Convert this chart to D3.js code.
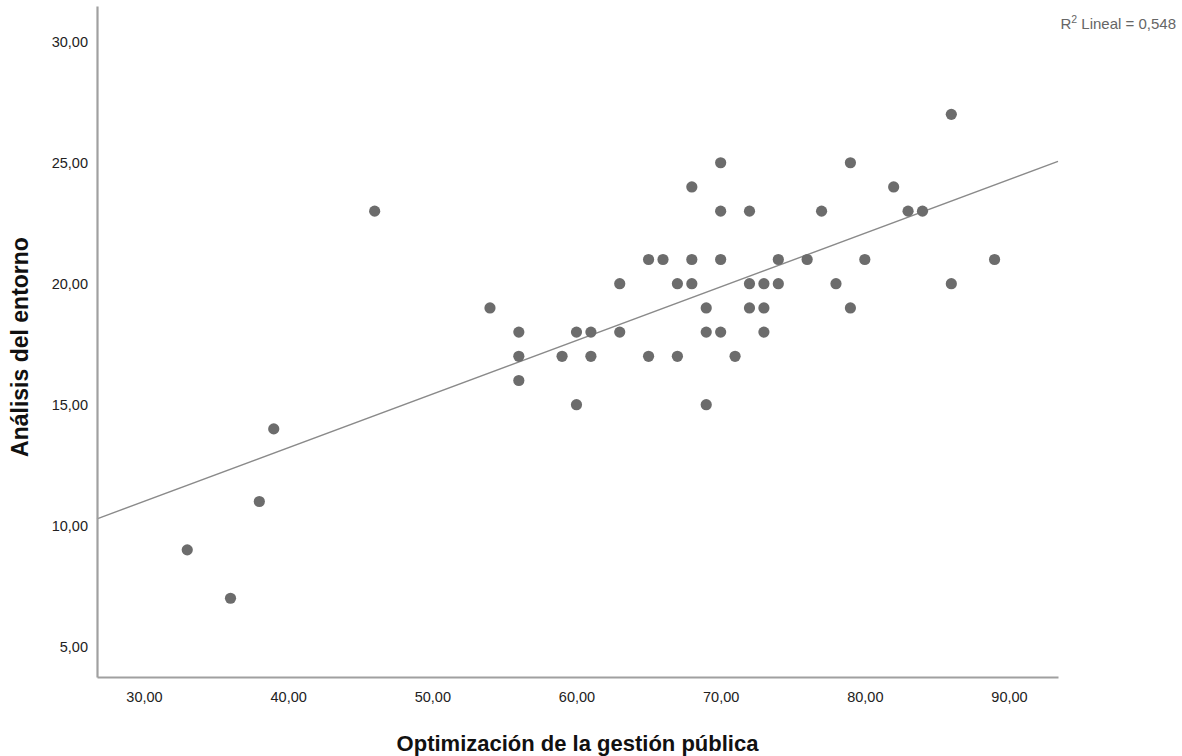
<!DOCTYPE html>
<html>
<head>
<meta charset="utf-8">
<script src="https://cdn.jsdelivr.net/npm/d3@7.9.0/dist/d3.min.js"></script>
<style>
  body { margin: 0; background: #fff; }
  svg { display: block; font-family: "Liberation Sans", Arial, sans-serif; }
  .tick text { fill: #222; font-size: 14.5px; }
  .axis-title { font-weight: bold; font-size: 22px; fill: #111; }
</style>
</head>
<body>
<svg id="chart" width="1182" height="756"></svg>
<script>
// Optimización de la gestión pública (x) vs Análisis del entorno (y)
const xValues = [33, 36, 38, 39, 46, 54, 56, 56, 56, 59, 60, 60, 61, 61, 63, 63,
  65, 65, 66, 67, 67, 68, 68, 68, 69, 69, 69, 70, 70, 70, 70, 71, 72, 72, 72,
  73, 73, 73, 74, 74, 76, 77, 78, 79, 79, 80, 82, 83, 84, 86, 86, 89];
const yValues = [9, 7, 11, 14, 23, 19, 18, 17, 16, 17, 18, 15, 18, 17, 20, 18,
  21, 17, 21, 20, 17, 24, 21, 20, 19, 18, 15, 25, 23, 21, 18, 17, 23, 20, 19,
  20, 19, 18, 21, 20, 21, 23, 20, 25, 19, 21, 24, 23, 23, 27, 20, 21];
const xTicks = [30, 40, 50, 60, 70, 80, 90];
const yTicks = [5, 10, 15, 20, 25, 30];
const xLabel = 'Optimización de la gestión pública';
const yLabel = 'Análisis del entorno';
const fitLabel = 'Lineal = 0,548';

const points = xValues.map((x, i) => ({ x, y: yValues[i] }));

const svg = d3.select('#chart');
const plot = { left: 97, right: 1058, top: 6, bottom: 677 };

const x = d3.scaleLinear().domain([26.74, 93.40]).range([plot.left, plot.right]);
const y = d3.scaleLinear().domain([3.746, 31.478]).range([plot.bottom, plot.top]);

const locale = d3.formatLocale({ decimal: ',', thousands: '.', grouping: [3], currency: ['', ''] });
const fmt = locale.format('.2f');

// least squares fit
const mx = d3.mean(points, d => d.x);
const my = d3.mean(points, d => d.y);
const slope = d3.sum(points, d => (d.x - mx) * (d.y - my)) / d3.sum(points, d => (d.x - mx) ** 2);
const intercept = my - slope * mx;
const [x0, x1] = x.domain();

svg.append('line')
  .attr('x1', x(x0)).attr('y1', y(intercept + slope * x0))
  .attr('x2', x(x1)).attr('y2', y(intercept + slope * x1))
  .attr('stroke', '#8a8a8a')
  .attr('stroke-width', 1.4);

svg.append('g')
  .selectAll('circle')
  .data(points)
  .join('circle')
  .attr('cx', d => x(d.x))
  .attr('cy', d => y(d.y))
  .attr('r', 5.6)
  .attr('fill', '#6c6c6c');

const xAxis = svg.append('g')
  .attr('transform', `translate(0,${plot.bottom})`)
  .call(d3.axisBottom(x).tickValues(xTicks).tickFormat(fmt).tickSize(0).tickSizeOuter(0).tickPadding(15));

const yAxis = svg.append('g')
  .attr('transform', `translate(${plot.left},0)`)
  .call(d3.axisLeft(y).tickValues(yTicks).tickFormat(fmt).tickSize(0).tickSizeOuter(0).tickPadding(9));

[xAxis, yAxis].forEach(g => {
  g.attr('font-size', null).attr('font-family', null);
  g.select('.domain').attr('stroke', '#a0a0a0').attr('stroke-width', 2.2);
});

svg.append('text')
  .attr('class', 'axis-title')
  .attr('x', (plot.left + plot.right) / 2)
  .attr('y', 751)
  .attr('text-anchor', 'middle')
  .text(xLabel);

svg.append('text')
  .attr('class', 'axis-title')
  .attr('transform', 'translate(28,347) rotate(-90)')
  .attr('text-anchor', 'middle')
  .style('font-size', '23px')
  .text(yLabel);

const r2 = svg.append('text')
  .attr('x', 1176)
  .attr('y', 29)
  .attr('text-anchor', 'end')
  .attr('font-size', 15)
  .attr('fill', '#666');
r2.append('tspan').text('R');
r2.append('tspan').attr('font-size', 10.5).attr('dy', -6).text('2');
r2.append('tspan').attr('dy', 6).text(' ' + fitLabel);
</script>
</body>
</html>
